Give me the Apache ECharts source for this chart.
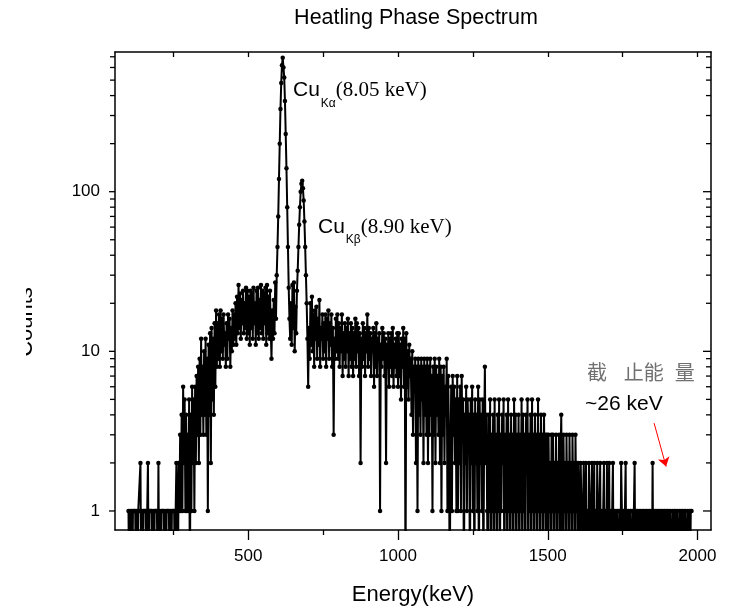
<!DOCTYPE html>
<html><head><meta charset="utf-8">
<script src="https://cdn.jsdelivr.net/npm/echarts@6/dist/echarts.min.js"></script>
<style>html,body{margin:0;padding:0;background:#fff}#c{width:734px;height:611px}</style>
</head><body><div id="c"></div>
<script>
// ---- text ----
const titleText = 'Heatling Phase Spectrum';
const xAxisName = 'Energy(keV)';
const yAxisName = 'Counts';
const peakLabels = [
  {main: 'Cu', sub: 'K\u03b1', rest: '(8.05 keV)'},
  {main: 'Cu', sub: 'K\u03b2', rest: '(8.90 keV)'}
];
const cutoffLabel = '\u622a   \u6b62\u80fd  \u91cf';
const cutoffValue = '~26 keV';

// ---- axes ----
const xMin = 55, xMax = 2045;
const yMin = 0.76, yMax = 750;
const xMajorTicks = [500, 1000, 1500, 2000];
const xMinorTicks = [250, 750, 1250, 1750];
const xTopTicks = [250, 500, 750, 1000, 1250, 1500, 1750, 2000];
const yMajorTicks = [1, 10, 100];
const yMinorTicks = [2,3,4,5,6,7,8,9,20,30,40,50,60,70,80,90,200,300,400,500,600,700];

// ---- data: counts per channel, channel energies = energyStart + i*energyStep ----
const energyStart = 100;
const energyStep = 2.5;
const countsLow = [ // 100 - 397.5
  1,0,1,0,1,0,1,1,1,1, 0,1,0,1,1,1,2,0,1,0, 1,1,1,1,0,1,2,0,1,1, 1,1,0,1,0,1,1,1,1,0,
  2,0,1,0,1,1,1,1,0,1, 0,1,1,1,1,0,1,0,1,1, 1,1,0,1,2,1,0,2,1,3, 1,4,1,6,2,5,1,4,1,3,
  1,5,0,4,1,6,2,5,1,6, 2,7,3,8,2,9,3,12,4,8, 3,10,4,12,3,9,1,11,4,13, 2,14,5,12,4,15,6,18,8,15
];
const countsHump = [ // 400 - 597.5
  9,17,8,18,10,16,9,17,11,13, 8,15,9,17,12,16,8,14,10,18, 11,17,12,20,11,22,13,26,14,23, 12,21,15,24,13,20,14,25,12,24,
  13,22,11,24,14,23,12,25,15,20, 11,24,13,25,12,21,14,26,13,24, 12,23,15,25,11,26,13,22,12,24, 14,9,18,12,21,13,27,16,30,45
];
const countsPeaks = [ // 600 - 697.5 (Cu K-alpha, Cu K-beta)
  70,120,200,330,480,620,690,600,520,370, 230,140,80,45,25,16,12,20,11,26,
  14,27,10,19,13,24,32,45,62,80, 100,112,117,105,88,65,45,30,20,12
];
const countsTailA = [ // 700 - 1197.5
  6,14,9,20,11,22,10,17,8,18, 12,19,9,16,11,21,8,14,12,17, 9,15,10,17,8,16,12,18,9,15, 11,17,8,14,3,12,9,16,10,17,
  9,15,8,14,10,17,7,13,9,15, 8,14,10,16,7,13,9,15,8,14, 7,13,9,16,8,15,10,14,7,13, 2,12,8,15,9,14,7,13,10,17,
  8,14,9,13,7,12,10,14,6,13, 8,15,7,12,9,13,1,11,8,14, 9,13,7,12,2,11,8,13,6,12, 8,13,7,14,6,11,8,12,7,13,
  6,13,7,11,5,12,8,14,6,12, 0,13,6,10,5,11,7,9,4,10, 3,8,6,9,2,8,1,9,4,8, 3,9,5,8,2,9,4,8,3,9,
  2,8,3,9,4,7,1,8,3,9, 2,8,4,7,3,9,2,8,1,7, 3,8,2,6,4,9,1,7,3,0, 2,6,1,7,3,6,2,5,1,7
];
const countsTailB = [ // 1200 - 1980
  1,5,2,6,1,7,3,5,0,4, 2,6,1,5,3,4,0,5,2,6, 1,4,0,5,2,4,1,6,0,5, 2,4,1,5,0,3,8,2,4,1,
  0,4,1,5,0,3,1,4,0,5, 1,3,0,4,1,5,0,3,1,4, 2,5,0,3,1,4,0,5,1,3, 0,4,1,3,0,5,1,4,0,3,
  1,4,0,3,1,5,0,4,1,3, 0,4,2,5,0,3,1,4,0,5, 1,3,0,4,1,3,0,5,1,3, 0,4,1,3,0,4,1,3,0,3,
  0,3,1,2,0,3,1,3,0,2, 1,3,0,2,1,3,0,2,4,1, 0,3,1,2,0,3,1,2,0,3, 1,2,0,3,1,2,0,3,1,2,
  0,2,1,0,2,1,0,1,2,0, 1,2,0,1,0,2,1,0,1,2, 0,1,2,0,1,0,2,1,0,1, 2,0,1,0,1,2,0,1,0,2,
  0,1,2,0,1,0,1,2,0,1, 0,1,0,1,1,0,1,0,2,1, 0,1,0,1,2,0,1,0,1,0, 1,1,0,1,0,1,2,0,1,0,
  1,0,1,0,1,0,1,0,1,0, 1,0,1,0,1,0,1,0,1,0, 2,0,1,0,1,0,1,0,1,0, 1,0,1,0,1,0,1,0,1,0,
  1,0,1,0,1,0,0,1,0,1, 0,1,0,1,0,0,1,0,1,0, 1,0,1,0,1,0,0,1,0,1, 0,1,1
];
// arrow anchors (energy, counts)
const arrowFrom = [1855, 3.55];
const arrowTo = [1895, 1.9];

// zero counts cannot sit on a log axis: draw them below the axis floor (clipped away)
const zeroFloor = 0.3;
const counts = countsLow.concat(countsHump, countsPeaks, countsTailA, countsTailB);
const spectrum = counts.map((c, i) => [energyStart + i * energyStep, c > 0 ? c : zeroFloor]);

const SANS = "'Liberation Sans', Arial, sans-serif";
const SERIF = "'Liberation Serif', 'Times New Roman', serif";
const ctx = document.createElement('canvas').getContext('2d');
function tw(text, size, fam) { ctx.font = size + 'px ' + fam; return ctx.measureText(text).width; }

function txt(x, y, text, font, fill, align) {
  return {type:'text', x:x, y:y, z:50, style:{text:text, fill:fill || '#000', font:font,
    align:align || 'left', verticalAlign:'middle', textAlign:align || 'left', textVerticalAlign:'middle'}};
}
function peakLabel(lbl, x, yMid) {
  const w1 = tw(lbl.main, 21, SANS);
  const w2 = tw(lbl.sub, 12, SANS);
  return [
    txt(x, yMid, lbl.main, '21px ' + SANS),
    txt(x + w1 + 1, yMid + 13, lbl.sub, '12px ' + SANS),
    txt(x + w1 + w2 + 1, yMid, lbl.rest, '21px ' + SERIF)
  ];
}

const chart = echarts.init(document.getElementById('c'), null, {renderer:'canvas'});
const axisLine = {show:true, onZero:false, lineStyle:{color:'#000', width:1.5}};

chart.setOption({
  animation: false,
  backgroundColor: '#fff',
  grid: {left:115, top:52, width:596, height:479, containLabel:false},
  xAxis: [
    {type:'value', position:'bottom', min:xMin, max:xMax,
     name:xAxisName, nameLocation:'middle', nameGap:54,
     nameTextStyle:{fontSize:22, color:'#000', fontFamily:SANS},
     axisLine:axisLine,
     axisTick:{show:true, inside:false, length:10, customValues:xMajorTicks, lineStyle:{color:'#000', width:1.3}},
     axisLabel:{show:true, customValues:xMajorTicks, fontSize:17, color:'#000', fontFamily:SANS, margin:18,
       formatter: v => String(v)},
     splitLine:{show:false}},
    {type:'value', position:'bottom', min:xMin, max:xMax,
     axisLine:{show:false},
     axisTick:{show:true, inside:false, length:5, customValues:xMinorTicks, lineStyle:{color:'#000', width:1.3}},
     axisLabel:{show:false, customValues:xMinorTicks},
     splitLine:{show:false}},
    {type:'value', position:'top', min:xMin, max:xMax,
     axisLine:axisLine,
     axisTick:{show:true, inside:true, length:5, customValues:xTopTicks, lineStyle:{color:'#000', width:1.3}},
     axisLabel:{show:false, customValues:xTopTicks},
     splitLine:{show:false}}
  ],
  yAxis: [
    {type:'log', position:'left', min:yMin, max:yMax, logBase:10,
     axisLine:axisLine, axisTick:{show:false},
     axisLabel:{show:true, fontSize:17, color:'#000', fontFamily:SANS, margin:15,
       formatter: v => yMajorTicks.some(t => Math.abs(t - v) < 1e-6 * t) ? String(Math.round(v)) : ''},
     splitLine:{show:false}},
    {type:'log', position:'right', min:yMin, max:yMax, logBase:10,
     axisLine:axisLine, axisTick:{show:false}, axisLabel:{show:false}, splitLine:{show:false}}
  ],
  series: [
    {type:'line', name:'spectrum', xAxisIndex:0, yAxisIndex:0, data:spectrum,
     clip:true, symbol:'circle', symbolSize:4.5, showSymbol:true,
     itemStyle:{color:'#000'}, lineStyle:{color:'#000', width:2},
     z: 3,
     markLine:{silent:true, animation:false, symbol:['none','arrow'], symbolSize:9,
       label:{show:false}, lineStyle:{color:'#ff0000', width:1, type:'solid'},
       emphasis:{disabled:true},
       data:[[{coord:arrowFrom}, {coord:arrowTo}]]}},
    {type:'custom', name:'yticks', xAxisIndex:0, yAxisIndex:0, silent:true, clip:false, z:4,
     data: yMajorTicks.map(v => [xMin, v, 1]).concat(yMinorTicks.map(v => [xMin, v, 0])),
     encode:{x:0, y:1},
     renderItem:(params, api) => {
       const v = api.value(1);
       const major = api.value(2) === 1;
       const l = api.coord([xMin, v]);
       const r = api.coord([xMax, v]);
       const lenL = major ? 6 : 5, lenR = major ? 8 : 5;
       return {type:'group', children:[
         {type:'line', shape:{x1:l[0] - lenL, y1:l[1], x2:l[0], y2:l[1]}, style:{stroke:'#000', lineWidth:1.3}},
         {type:'line', shape:{x1:r[0] - lenR, y1:r[1], x2:r[0], y2:r[1]}, style:{stroke:'#000', lineWidth:1.3}}
       ]};
     }}
  ],
  graphic: [].concat(
    [txt(416, 18, titleText, '21.5px ' + SANS, '#000', 'center'),
     {type:'text', x:37, y:322, rotation:Math.PI / 2, z:50, style:{text:yAxisName, fill:'#000', font:'22px ' + SANS, align:'center', verticalAlign:'bottom', textAlign:'center', textVerticalAlign:'bottom'}},
     {type:'rect', z:60, shape:{x:0, y:270, width:26, height:110}, style:{fill:'#fff'}},
     txt(587, 374, cutoffLabel, "20px 'Liberation Sans', 'Noto Sans CJK SC'", '#707070'),
     txt(585, 404, cutoffValue, '21px ' + SANS)],
    peakLabel(peakLabels[0], 293, 90.5),
    peakLabel(peakLabels[1], 318, 227)
  )
});
</script></body></html>
